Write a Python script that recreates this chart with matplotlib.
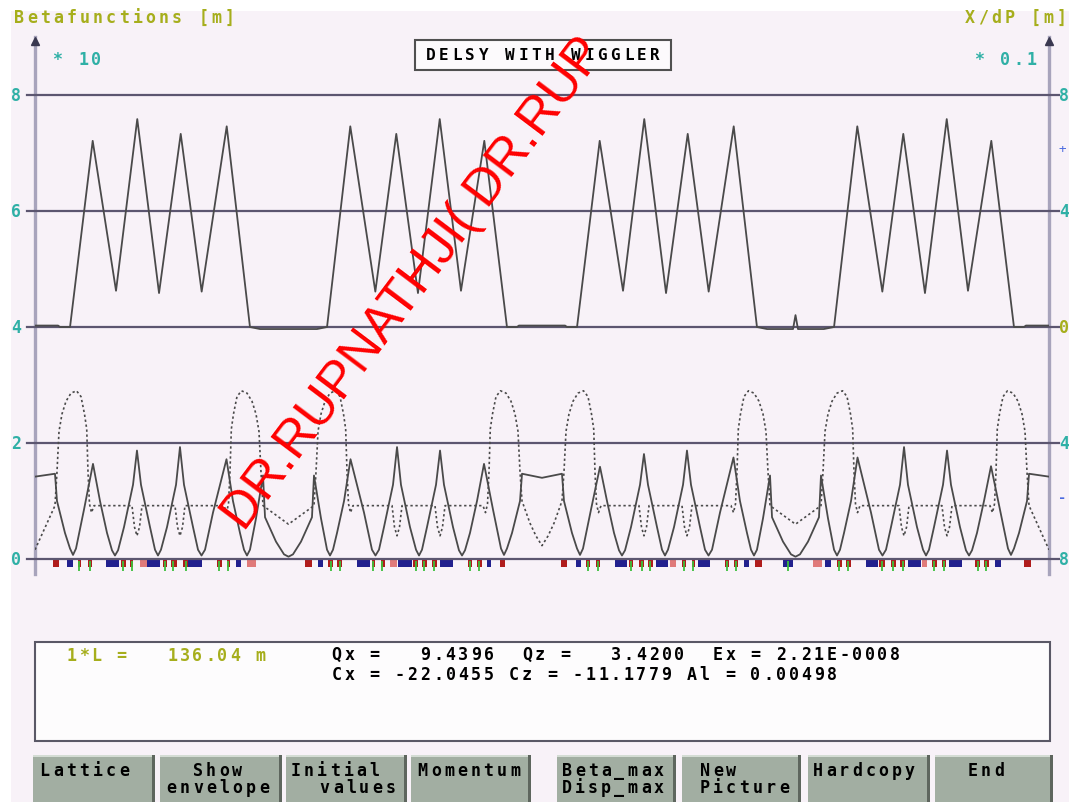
import matplotlib
matplotlib.use("Agg")
import matplotlib.pyplot as plt
import matplotlib.transforms as mtransforms
from matplotlib.patches import Rectangle

W, H = 1069, 803
RING_LENGTH = 136.04

# dispersion X/dP [m] along s [m] (solid, upper curve)
disp_s = [0.00, 3.09, 3.35, 4.70, 7.74, 10.87, 13.72, 16.64, 19.55, 22.36, 25.72, 28.84, 30.19,
          37.83, 39.18, 42.30, 45.66, 48.47, 51.38, 54.30, 57.15, 60.28, 63.32, 64.67, 64.93,
          68.02, 71.11, 71.37, 72.72, 75.76, 78.89, 81.74, 84.66, 87.57, 90.38, 93.74, 96.86,
          98.21, 101.70, 102.03, 102.36, 105.83, 107.20, 110.32, 113.68, 116.49, 119.40, 122.32,
          125.17, 128.30, 131.34, 132.69, 132.95, 136.04]
disp_m = [0.005, 0.005, 0.0, 0.0, 0.642, 0.125, 0.717, 0.117, 0.666, 0.122, 0.692, 0.0, -0.007,
          -0.007, 0.0, 0.692, 0.122, 0.666, 0.117, 0.717, 0.125, 0.642, 0.0, 0.0, 0.005,
          0.005, 0.005, 0.0, 0.0, 0.642, 0.125, 0.717, 0.117, 0.666, 0.122, 0.692, 0.0,
          -0.007, -0.007, 0.041, -0.007, -0.007, 0.0, 0.692, 0.122, 0.666, 0.117, 0.717,
          0.125, 0.642, 0.0, 0.0, 0.005, 0.005]

# horizontal beta function [m] (solid, lower)
betax_s = [0.00, 2.68, 2.95, 4.02, 4.70, 5.10, 5.50, 6.57, 7.78, 8.72, 9.66, 10.33, 10.73, 11.14,
           11.94, 13.15, 13.68, 14.22, 15.43, 16.10, 16.50, 16.90, 17.71, 18.92, 19.45, 19.99,
           21.20, 21.87, 22.34, 22.81, 23.88, 25.69, 26.56, 27.50, 28.04, 28.44, 28.84, 29.65,
           30.59, 30.86, 32.33, 33.41, 34.01, 34.61, 35.69, 37.16, 37.43, 38.37, 39.18, 39.58,
           39.98, 40.52, 41.46, 42.33, 44.14, 45.21, 45.68, 46.15, 46.82, 48.03, 48.57, 49.10,
           50.31, 51.12, 51.52, 51.92, 52.59, 53.80, 54.34, 54.87, 56.08, 56.88, 57.29, 57.69,
           58.36, 59.30, 60.24, 61.45, 62.52, 62.92, 63.32, 64.00, 65.07, 65.34, 68.02, 70.70,
           70.97, 72.04, 72.72, 73.12, 73.52, 74.59, 75.80, 76.74, 77.68, 78.35, 78.75, 79.16,
           79.96, 81.17, 81.70, 82.24, 83.45, 84.12, 84.52, 84.92, 85.73, 86.94, 87.47, 88.01,
           89.22, 89.89, 90.36, 90.83, 91.90, 93.71, 94.58, 95.52, 96.06, 96.46, 96.86, 97.67,
           98.61, 98.88, 100.35, 101.43, 102.03, 102.63, 103.71, 105.18, 105.45, 106.39, 107.20,
           107.60, 108.00, 108.54, 109.48, 110.35, 112.16, 113.23, 113.70, 114.17, 114.84,
           116.05, 116.59, 117.12, 118.33, 119.14, 119.54, 119.94, 120.61, 121.82, 122.36,
           122.89, 124.10, 124.90, 125.31, 125.71, 126.38, 127.32, 128.26, 129.47, 130.54,
           130.94, 131.34, 132.02, 133.09, 133.36, 136.04]
betax_m = [14.2, 14.7, 10.0, 4.5, 1.8, 0.7, 1.8, 8.5, 16.4, 10.0, 4.5, 1.5, 0.6, 1.5,
           5.5, 12.8, 18.7, 12.8, 5.5, 1.6, 0.6, 1.6, 5.5, 12.8, 19.3, 12.8,
           5.5, 1.6, 0.6, 1.6, 8.0, 17.2, 10.0, 4.5, 1.6, 0.6, 1.6, 7.0,
           14.4, 7.2, 3.0, 0.8, 0.4, 0.8, 3.0, 7.2, 14.4, 7.0, 1.6, 0.6,
           1.6, 4.5, 10.0, 17.2, 8.0, 1.6, 0.6, 1.6, 5.5, 12.8, 19.3, 12.8,
           5.5, 1.6, 0.6, 1.6, 5.5, 12.8, 18.7, 12.8, 5.5, 1.5, 0.6, 1.5,
           4.5, 10.0, 16.4, 8.5, 1.8, 0.7, 1.8, 4.5, 10.0, 14.7, 14.0, 14.7,
           10.0, 4.5, 1.8, 0.7, 1.8, 8.5, 15.9, 10.0, 4.5, 1.5, 0.6, 1.5,
           5.5, 12.8, 18.1, 12.8, 5.5, 1.6, 0.6, 1.6, 5.5, 12.8, 18.7, 12.8,
           5.5, 1.6, 0.6, 1.6, 8.0, 17.5, 10.0, 4.5, 1.6, 0.6, 1.6, 7.0,
           14.4, 7.2, 3.0, 0.8, 0.4, 0.8, 3.0, 7.2, 14.4, 7.0, 1.6,
           0.6, 1.6, 4.5, 10.0, 17.5, 8.0, 1.6, 0.6, 1.6, 5.5,
           12.8, 19.3, 12.8, 5.5, 1.6, 0.6, 1.6, 5.5, 12.8, 18.7,
           12.8, 5.5, 1.5, 0.6, 1.5, 4.5, 10.0, 16.0, 8.5, 1.8,
           0.7, 1.8, 4.5, 10.0, 14.7, 14.2]

# vertical beta function [m] (dotted, lower)
betaz_s = [0.00, 2.68, 2.95, 3.22, 3.62, 4.16, 4.83, 5.57, 6.17, 6.64, 6.94, 7.11, 7.31, 7.58, 7.92,
           13.01, 13.35, 13.68, 14.02, 14.36, 18.78, 19.12, 19.45, 19.79, 20.12, 25.36, 25.69,
           25.96, 26.16, 26.34, 26.63, 27.10, 27.70, 28.44, 29.11, 29.65, 30.05, 30.32, 30.59,
           34.01, 37.43, 37.70, 37.97, 38.37, 38.91, 39.58, 40.32, 40.92, 41.39, 41.68, 41.86,
           42.06, 42.33, 42.66, 47.90, 48.23, 48.57, 48.90, 49.24, 53.66, 54.00, 54.34, 54.67,
           55.01, 60.10, 60.44, 60.71, 60.91, 61.08, 61.38, 61.85, 62.45, 63.19, 63.86, 64.40,
           64.80, 65.07, 65.34, 66.40, 67.20, 68.02, 68.84, 69.64, 70.70, 70.97, 71.24, 71.64,
           72.18, 72.85, 73.59, 74.19, 74.66, 74.96, 75.13, 75.33, 75.60, 75.94, 81.03, 81.37,
           81.70, 82.04, 82.38, 86.80, 87.14, 87.47, 87.81, 88.14, 93.38, 93.71, 93.98, 94.18,
           94.36, 94.65, 95.12, 95.72, 96.46, 97.13, 97.67, 98.07, 98.34, 98.61, 102.03, 105.45,
           105.72, 105.99, 106.39, 106.93, 107.60, 108.34, 108.94, 109.41, 109.70, 109.88,
           110.08, 110.35, 110.68, 115.92, 116.25, 116.59, 116.93, 117.26, 121.68, 122.02,
           122.36, 122.69, 123.03, 128.12, 128.46, 128.73, 128.93, 129.10, 129.40, 129.87,
           130.47, 131.21, 131.88, 132.42, 132.82, 133.09, 133.36, 136.04]
betaz_m = [1.6, 9.2, 15.0, 22.0, 25.0, 27.2, 28.6, 29.0, 28.0, 25.0, 22.4, 15.0, 9.5, 8.0, 9.2,
           9.2, 5.5, 4.0, 5.5, 9.2, 9.2, 5.5, 4.0, 5.5, 9.2, 9.2, 8.0,
           9.5, 15.0, 22.4, 25.0, 28.0, 29.0, 28.6, 27.2, 25.0, 22.0, 15.0, 9.2,
           6.0, 9.2, 15.0, 22.0, 25.0, 27.2, 28.6, 29.0, 28.0, 25.0, 22.4, 15.0,
           9.5, 8.0, 9.2, 9.2, 5.5, 4.0, 5.5, 9.2, 9.2, 5.5, 4.0, 5.5,
           9.2, 9.2, 8.0, 9.5, 15.0, 22.4, 25.0, 28.0, 29.0, 28.6, 27.2, 25.0,
           22.0, 15.0, 10.0, 6.2, 4.0, 2.3, 4.0, 6.2, 10.0, 15.0, 22.0, 25.0,
           27.2, 28.6, 29.0, 28.0, 25.0, 22.4, 15.0, 9.5, 8.0, 9.2, 9.2, 5.5,
           4.0, 5.5, 9.2, 9.2, 5.5, 4.0, 5.5, 9.2, 9.2, 8.0, 9.5, 15.0,
           22.4, 25.0, 28.0, 29.0, 28.6, 27.2, 25.0, 22.0, 15.0, 9.2, 6.0, 9.2,
           15.0, 22.0, 25.0, 27.2, 28.6, 29.0, 28.0, 25.0, 22.4, 15.0,
           9.5, 8.0, 9.2, 9.2, 5.5, 4.0, 5.5, 9.2, 9.2, 5.5,
           4.0, 5.5, 9.2, 9.2, 8.0, 9.5, 15.0, 22.4, 25.0, 28.0,
           29.0, 28.6, 27.2, 25.0, 22.0, 15.0, 9.2, 1.6]

# lattice elements drawn under the axis: (start, end) in m
blue_elements = [(4.29, 5.10), (9.53, 11.27), (15.03, 16.77), (20.53, 22.40), (26.97, 27.64),
                 (37.97, 38.64), (43.20, 44.94), (48.70, 50.58), (54.33, 56.08), (60.64, 61.18),
                 (72.58, 73.25), (77.81, 79.42), (83.31, 84.92), (88.95, 90.56), (95.12, 95.79),
                 (100.35, 101.69), (105.99, 106.79), (111.49, 113.10), (117.12, 118.87),
                 (122.62, 124.37), (128.79, 129.60)]
red_elements = [(2.41, 3.22), (5.77, 6.17), (7.11, 7.65), (11.54, 12.21), (12.74, 13.15),
                (17.17, 17.71), (18.24, 19.05), (19.85, 20.53), (24.42, 25.09), (25.76, 26.16),
                (36.23, 37.16), (39.31, 39.98), (40.52, 41.19), (45.21, 45.61), (46.42, 46.95),
                (50.71, 51.38), (51.92, 52.59), (53.26, 53.93), (58.09, 58.63), (59.30, 59.97),
                (62.39, 63.06), (70.57, 71.37), (73.92, 74.46), (75.27, 75.80), (79.69, 80.23),
                (81.03, 81.70), (82.24, 82.91), (86.80, 87.34), (88.14, 88.54), (92.57, 93.10),
                (93.77, 94.31), (96.59, 97.54), (107.60, 108.27), (108.81, 109.48), (113.23, 114.04),
                (114.84, 115.51), (116.05, 116.72), (120.34, 121.01), (121.68, 122.22),
                (126.11, 126.78), (127.32, 127.99), (132.69, 133.63)]
pink_elements = [(14.09, 15.03), (28.44, 29.65), (47.63, 48.57), (85.19, 85.99),
                 (104.38, 105.58), (119.00, 119.67)]
green_elements = [5.90, 7.38, 11.81, 13.01, 17.44, 18.51, 20.26, 24.69, 25.96, 39.65, 40.92,
                  45.41, 46.62, 51.11, 52.25, 53.53, 58.36, 59.57, 74.13, 75.53, 79.96, 81.37,
                  82.51, 87.07, 88.34, 92.83, 94.04, 101.02, 107.87, 109.14, 113.63, 115.17,
                  116.39, 120.67, 121.95, 126.45, 127.65]

BG = '#f8f2f8'
GRID = '#5c5670'
AXIS = '#a8a4bc'
CURVE = '#4a4a4a'
TEAL = '#2fb0a6'
OLIVE = '#a6ae1c'
MONO = 'DejaVu Sans Mono'


def fx(x):
    return x / W


def fy(y):
    return 1 - y / H


def mono_text(fig, x, y, text, color='black', pitch=13.0, size=12):
    """Fixed pitch text, x is the left edge of the first character (pixels)."""
    for i, ch in enumerate(text):
        if ch == ' ':
            continue
        fig.text(fx(x + pitch * (i + 0.5)), fy(y), ch, ha='center', va='center',
                 color=color, fontsize=size, family=MONO, fontweight='bold')


fig = plt.figure(figsize=(W / 100, H / 100), dpi=100)
fig.patch.set_facecolor(BG)
fig.add_artist(Rectangle((0, fy(12)), 1, 12 / H, transform=fig.transFigure,
                         facecolor='white', edgecolor='none'))
fig.add_artist(Rectangle((0, 0), fx(11), 1, transform=fig.transFigure,
                         facecolor='white', edgecolor='none'))

ax = fig.add_axes([fx(35), fy(575), (1049 - 35) / W, (575 - 38) / H])
ax.set_xlim(0, RING_LENGTH)
ax.set_ylim(-2.586, 90.0)
ax.set_facecolor('none')
ax.set_xticks([])
ax.set_yticks([])
for side in ['top', 'bottom']:
    ax.spines[side].set_visible(False)
for side in ['left', 'right']:
    ax.spines[side].set_color(AXIS)
    ax.spines[side].set_linewidth(2.4)

axd = ax.twinx()
axd.set_ylim(-0.8517, 1.0)
axd.axis('off')

# horizontal reference lines
for v in [0, 20, 40, 60, 80]:
    ax.plot([-1.07, 137.4], [v, v], color=GRID, lw=1.6, clip_on=False, zorder=3)

# arrow heads at the top of both axes
ax.plot([0, RING_LENGTH], [89.3, 89.3], linestyle='none', marker='^', markersize=6,
        color='#3a3850', clip_on=False, zorder=4)

# lattice elements
EL_LOW, EL_H = -1.45, 1.45
for a, b in blue_elements:
    ax.add_patch(Rectangle((a, EL_LOW), b - a, EL_H, facecolor='#22208e', edgecolor='none', zorder=2))
for a, b in red_elements:
    ax.add_patch(Rectangle((a, EL_LOW), b - a, EL_H, facecolor='#b01c1c', edgecolor='none', zorder=2))
for a, b in pink_elements:
    ax.add_patch(Rectangle((a, EL_LOW), b - a, EL_H, facecolor='#e07a7a', edgecolor='none', zorder=2))
ax.vlines(green_elements, -2.1, -0.3, color='#3cc03c', lw=1.3, zorder=2)

# optics
axd.plot(disp_s, disp_m, color=CURVE, lw=1.3, zorder=5)
ax.plot(betax_s, betax_m, color=CURVE, lw=1.3, zorder=5)
ax.plot(betaz_s, betaz_m, color=CURVE, lw=1.2, linestyle=(0, (1.4, 1.6)), zorder=5)

# axis labels
left_t = mtransforms.blended_transform_factory(ax.transAxes, ax.transData)
for v, lab in zip([0, 20, 40, 60, 80], ['0', '2', '4', '6', '8']):
    ax.text(-0.0187, v, lab, transform=left_t, ha='center', va='center', color=TEAL,
            fontsize=12, family=MONO, fontweight='bold', clip_on=False)
right_t = mtransforms.blended_transform_factory(axd.transAxes, axd.transData)
for d, lab in zip([0.8, 0.4, 0.0, -0.4, -0.8], ['8', '4', '0', '4', '8']):
    axd.text(1.0148, d, lab, transform=right_t, ha='center', va='center',
             color=OLIVE if lab == '0' else TEAL, fontsize=12, family=MONO,
             fontweight='bold', clip_on=False)
axd.text(1.0128, 0.614, '+', transform=right_t, ha='center', va='center', color='#4a6ae0',
         fontsize=9, family=MONO, clip_on=False)
axd.text(1.0128, -0.586, '-', transform=right_t, ha='center', va='center', color='#4a6ae0',
         fontsize=10, family=MONO, fontweight='bold', clip_on=False)

mono_text(fig, 12, 18, 'Betafunctions [m]', OLIVE, pitch=13.2)
mono_text(fig, 963, 18, 'X/dP [m]', OLIVE, pitch=13.2)
mono_text(fig, 50, 60, '* 10', TEAL, pitch=13.2)
mono_text(fig, 972, 60, '* 0.1', TEAL, pitch=13.2)

# title box
fig.add_artist(Rectangle((fx(415), fy(71)), (671 - 415) / W, 30 / H, transform=fig.transFigure,
                         facecolor='#fcfafc', edgecolor='#505050', lw=1.5))
mono_text(fig, 424, 55, 'DELSY WITH WIGGLER', 'black', pitch=13.2, size=11.5)

# info box
fig.add_artist(Rectangle((fx(35), fy(742)), (1050 - 35) / W, (742 - 643) / H,
                         transform=fig.transFigure, facecolor='#fdfcfd', edgecolor='#5a5866', lw=1.5))
mono_text(fig, 65, 656, '1*L =   136.04 m', OLIVE, pitch=12.6, size=12)
mono_text(fig, 330, 655, 'Qx =   9.4396  Qz =   3.4200  Ex = 2.21E-0008', 'black', pitch=12.7, size=12)
mono_text(fig, 330, 675, 'Cx = -22.0455 Cz = -11.1779 Al = 0.00498', 'black', pitch=12.7, size=12)

# buttons
buttons = [(33, 155), (160, 282), (286, 407), (411, 531), (557, 676), (682, 801), (808, 930), (935, 1053)]
for x0, x1 in buttons:
    fig.add_artist(Rectangle((fx(x0), 0), (x1 - x0) / W, fy(756), transform=fig.transFigure,
                             facecolor='#a2aea2', edgecolor='none'))
    fig.add_artist(Rectangle((fx(x0), fy(758)), (x1 - x0) / W, 2 / H, transform=fig.transFigure,
                             facecolor='#d4dcd4', edgecolor='none'))
    fig.add_artist(Rectangle((fx(x1 - 3), 0), 3 / W, fy(756), transform=fig.transFigure,
                             facecolor='#5e665e', edgecolor='none'))
button_text = [(38, 771, 'Lattice'), (191, 771, 'Show'), (165, 788, 'envelope'),
               (289, 771, 'Initial'), (318, 788, 'values'), (416, 771, 'Momentum'),
               (560, 771, 'Beta_max'), (560, 788, 'Disp_max'), (698, 771, 'New'),
               (698, 788, 'Picture'), (811, 771, 'Hardcopy'), (966, 771, 'End')]
for x, y, t in button_text:
    mono_text(fig, x, y, t, 'black', pitch=13.2, size=12)

# watermark
fig.text(fx(244), fy(532), 'DR.RUPNATHJI( DR.RUP', rotation=53,
         rotation_mode='anchor', ha='left', va='baseline', color='#ff0000',
         fontsize=37, family='Liberation Sans', zorder=10)

fig.savefig('out.png', dpi=100, facecolor=fig.get_facecolor())
